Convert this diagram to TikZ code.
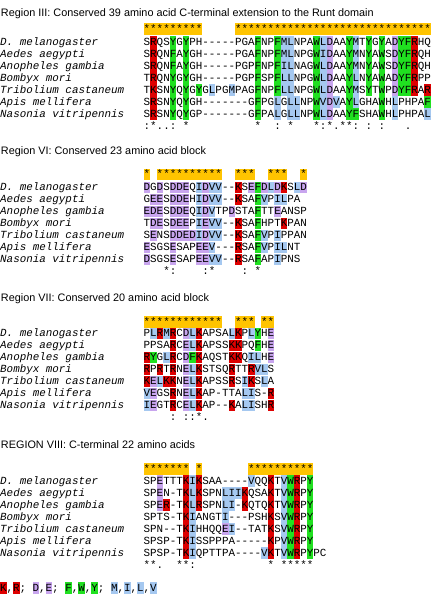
\documentclass[tikz,border=0pt]{standalone}
\usepackage{fontspec}
\setmainfont{Liberation Sans}
\newfontfamily\seqfont{Liberation Mono}
\definecolor{cKR}{RGB}{222,0,0}
\definecolor{cDE}{RGB}{200,165,238}
\definecolor{cFWY}{RGB}{32,224,32}
\definecolor{cMILV}{RGB}{165,200,240}
\definecolor{cStar}{RGB}{255,196,0}

\newcount\rescol
\newif\ifstarrow
\def\cw{6.53}
\def\sx{143.66}
\def\bl{3.6}
\def\bh{11.6}
\def\seqx{0}
\def\seqy{0}
\def\rowid{r}

\def\resstep#1{%
  \ifx#1\relax\else
    \advance\rescol by 1
    \drawres{#1}%
    \expandafter\resstep
  \fi}

\def\drawres#1{%
  \let\rescl\relax
  \if#1K\def\rescl{cKR}\fi
  \if#1R\def\rescl{cKR}\fi
  \if#1D\def\rescl{cDE}\fi
  \if#1E\def\rescl{cDE}\fi
  \if#1F\def\rescl{cFWY}\fi
  \if#1W\def\rescl{cFWY}\fi
  \if#1Y\def\rescl{cFWY}\fi
  \if#1M\def\rescl{cMILV}\fi
  \if#1I\def\rescl{cMILV}\fi
  \if#1L\def\rescl{cMILV}\fi
  \if#1V\def\rescl{cMILV}\fi
  \ifstarrow\if#1*\def\rescl{cStar}\fi\fi
  \ifx\rescl\relax\else
    \fill[\rescl] ({\seqx+(\the\rescol-1)*\cw},{\seqy-\bh/2}) rectangle ++(\cw,\bh);
  \fi
  \if#10\else
    \node[res,name=\rowid-\the\rescol] at ({\seqx+(\the\rescol-0.5)*\cw},{\seqy+\bl}) {#1};
  \fi}

\newcommand\drawseq[4]{%
  \def\rowid{#1}\def\seqx{#2}\def\seqy{#3}\rescol=0
  \resstep#4\relax}

\newcommand\block[9]{%
  \foreach \nm [count=\k from 0] in {D. melanogaster,Aedes aegypti,Anopheles gambia,Bombyx mori,Tribolium castaneum,Apis mellifera,Nasonia vitripennis}{
    \node[spname,name=#1-name\k] at (0,{#2+12*\k+\bl}) {\nm};
  }
  \drawseq{#1a}{\sx}{#2}{#3}
  \drawseq{#1b}{\sx}{#2+12}{#4}
  \drawseq{#1c}{\sx}{#2+24}{#5}
  \drawseq{#1d}{\sx}{#2+36}{#6}
  \drawseq{#1e}{\sx}{#2+48}{#7}
  \drawseq{#1f}{\sx}{#2+60}{#8}
  \drawseq{#1g}{\sx}{#2+72}{#9}
}

\tikzset{
  res/.style={font=\seqfont\fontsize{10.88}{12}\selectfont, inner sep=0pt, anchor=base},
  spname/.style={font=\seqfont\itshape\fontsize{10.88}{12}\selectfont, inner sep=0pt, anchor=base west},
  title/.style={font=\fontsize{10.85}{13}\selectfont, inner sep=0pt, anchor=base west}
}

\begin{document}
\begin{tikzpicture}[x=1pt,y=-1pt]
\path[use as bounding box, fill=white] (0,0) rectangle (432,595);
\clip (0,0) rectangle (432,595);

% ---------------- Region III
\node[title] (t3) at (0.8,16) {Region III: Conserved 39 amino acid C-terminal extension to the Runt domain};
\starrowtrue
\drawseq{s3}{\sx}{29}{*********00000******************************}
\starrowfalse
\block{r3}{42}
{SRQSYGYPH-----PGAFNPFMLNPAWLDAAYMTYGYADYFRHQ}
{SRQNFAYGH-----PGAFNPFMLNPGWIDAAYMNYAWSDYFRQH}
{SRQNFAYGH-----PGPFNPFILNAGWLDAAYMNYAWSDYFRQH}
{TRQNYGYGH-----PGPFSPFLLNPGWLDAAYLNYAWADYFRPP}
{TKSNYQYGYGLPGMPAGFNPFLLNPGWLDAAYMSYTWPDYFRAR}
{SRSNYQYGH-------GFPGLGLLNPWVDVAYLGHAWHLPHPAF}
{SRSNYQYGP-------GFPALGLLNPWLDAAYFSHAWHLPHPAL}
\drawseq{c3}{\sx}{126}{:*..:0*0000000000*00:0*000*:*.**:0:0:000.}

% ---------------- Region VI
\node[title] (t6) at (0.8,154) {Region VI: Conserved 23 amino acid block};
\starrowtrue
\drawseq{s6}{\sx}{174.3}{*0**********00***00***00*}
\starrowfalse
\block{r6}{187.3}
{DGDSDDEQIDVV--KSEFDLDKSLD}
{GEESDDEHIDVV--KSAFVPILPA}
{EDESDDEQIDVTPDSTAFTTEANSP}
{TDESDEEPIEVV--KSAFHPTKPAN}
{SENSDDEDIDVV--KSAFVPIPPAN}
{ESGSESAPEEV---RSAFVPILNT}
{DSGSESAPEEVV--RSAFAPIPNS}
\drawseq{c6}{\sx}{271.3}{000*:0000:*0000:0*}

% ---------------- Region VII
\node[title] (t7) at (0.8,301) {Region VII: Conserved 20 amino acid block};
\starrowtrue
\drawseq{s7}{\sx}{322}{************00***0**}
\starrowfalse
\block{r7}{333.3}
{PLRMRCDLKAPSALKPLYHE}
{PPSARCELKAPSSKKPQFHE}
{RYGLRCDFKAQSTKKQILHE}
{RPRTRNELKSTSQRTTRVLS}
{KELKKNELKAPSSRSIKSLA}
{VEGSRNELKAP-TTALIS-R}
{IEGTRCELKAP--KALISHR}
\drawseq{c7}{\sx}{417.3}{0000:0::*.}

% ---------------- Region VIII
\node[title] (t8) at (0.8,448.5) {REGION VIII: C-terminal 22 amino acids};
\starrowtrue
\drawseq{s8}{\sx}{469}{*******0*0000000**********}
\starrowfalse
\block{r8}{480.7}
{SPETTTKIKSAA----VQQKTVWRPY}
{SPEN-TKLKSPNLIIKQSAKTVWRPY}
{SPER-TKLRSPNLI-KQTQKTVWRPY}
{SPTS-TKIANGTI---PSHKSVWRPY}
{SPN--TKIHHQQEI--TATKSVWRPY}
{SPSP-TKISSPPPA-----KPVWRPY}
{SPSP-TKIQPTTPA----VKTVWRPYPC}
\drawseq{c8}{\sx}{564.7}{**.00**:00000000000*0*****}

% ---------------- Legend
\drawseq{lg}{0}{588}{K,R;0D,E;0F,W,Y;0M,I,L,V}
\end{tikzpicture}
\end{document}
